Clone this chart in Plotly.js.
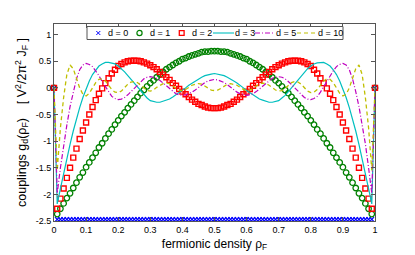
<!DOCTYPE html>
<html><head><meta charset="utf-8">
<script src="https://cdn.plot.ly/plotly-3.0.1.min.js"></script>
<style>html,body{margin:0;padding:0;background:#fff}</style>
</head><body><div id="chart" style="width:415px;height:255px"></div>
<script>
const rho = [0,0.01,0.02,0.03,0.04,0.05,0.06,0.07,0.08,0.09,0.10,0.11,0.12,0.13,0.14,0.15,0.16,0.17,0.18,0.19,0.20,0.21,0.22,0.23,0.24,0.25,0.26,0.27,0.28,0.29,0.30,0.31,0.32,0.33,0.34,0.35,0.36,0.37,0.38,0.39,0.40,0.41,0.42,0.43,0.44,0.45,0.46,0.47,0.48,0.49,0.50,0.51,0.52,0.53,0.54,0.55,0.56,0.57,0.58,0.59,0.60,0.61,0.62,0.63,0.64,0.65,0.66,0.67,0.68,0.69,0.70,0.71,0.72,0.73,0.74,0.75,0.76,0.77,0.78,0.79,0.80,0.81,0.82,0.83,0.84,0.85,0.86,0.87,0.88,0.89,0.90,0.91,0.92,0.93,0.94,0.95,0.96,0.97,0.98,0.99,1.00];

const g_d0 = [0,
-2.47,-2.47,-2.47,-2.47,-2.47,-2.47,-2.47,-2.47,-2.47,-2.47,
-2.47,-2.47,-2.47,-2.47,-2.47,-2.47,-2.47,-2.47,-2.47,-2.47,
-2.47,-2.47,-2.47,-2.47,-2.47,-2.47,-2.47,-2.47,-2.47,-2.47,
-2.47,-2.47,-2.47,-2.47,-2.47,-2.47,-2.47,-2.47,-2.47,-2.47,
-2.47,-2.47,-2.47,-2.47,-2.47,-2.47,-2.47,-2.47,-2.47,-2.47,
-2.47,-2.47,-2.47,-2.47,-2.47,-2.47,-2.47,-2.47,-2.47,-2.47,
-2.47,-2.47,-2.47,-2.47,-2.47,-2.47,-2.47,-2.47,-2.47,-2.47,
-2.47,-2.47,-2.47,-2.47,-2.47,-2.47,-2.47,-2.47,-2.47,-2.47,
-2.47,-2.47,-2.47,-2.47,-2.47,-2.47,-2.47,-2.47,-2.47,-2.47,
-2.47,-2.47,-2.47,-2.47,-2.47,-2.47,-2.47,-2.47,-2.47,
0];

const g_d1 = [0,-2.37,-2.27,-2.17,-2.07,-1.98,-1.88,-1.78,-1.68,-1.59,-1.49,-1.40,-1.31,-1.22,-1.12,-1.04,-0.95,-0.86,-0.78,-0.69,-0.61,-0.53,-0.46,-0.38,-0.31,-0.24,-0.17,-0.10,-0.04,0.03,0.09,0.14,0.20,0.25,0.30,0.35,0.39,0.43,0.47,0.50,0.54,0.56,0.59,0.61,0.63,0.65,0.67,0.68,0.68,0.69,0.69,
0.69,0.68,0.68,0.67,0.65,0.63,0.61,0.59,0.56,0.54,0.50,0.47,0.43,0.39,0.35,0.30,0.25,0.20,0.14,0.09,0.03,-0.04,-0.10,-0.17,-0.24,-0.31,-0.38,-0.46,-0.53,-0.61,-0.69,-0.78,-0.86,-0.95,-1.04,-1.12,-1.22,-1.31,-1.40,-1.49,-1.59,-1.68,-1.78,-1.88,-1.98,-2.07,-2.17,-2.27,-2.37,0];

const g_d2 = [0,-2.27,-2.08,-1.89,-1.69,-1.50,-1.31,-1.14,-0.96,-0.80,-0.65,-0.50,-0.36,-0.23,-0.11,-0.01,0.09,0.18,0.27,0.34,0.41,0.45,0.48,0.50,0.51,0.51,0.51,0.50,0.48,0.455,0.425,0.39,0.35,0.30,0.25,0.20,0.15,0.09,0.04,-0.02,-0.07,-0.12,-0.17,-0.22,-0.26,-0.30,-0.32,-0.35,-0.37,-0.38,-0.38,
-0.38,-0.37,-0.35,-0.32,-0.30,-0.26,-0.22,-0.17,-0.12,-0.07,-0.02,0.04,0.09,0.15,0.20,0.25,0.30,0.35,0.39,0.425,0.455,0.48,0.50,0.51,0.51,0.51,0.50,0.48,0.45,0.41,0.34,0.27,0.18,0.09,-0.01,-0.11,-0.23,-0.36,-0.50,-0.65,-0.80,-0.96,-1.14,-1.31,-1.50,-1.69,-1.89,-2.08,-2.27,0];

const g_d3 = [0,-2.18,-1.89,-1.60,-1.32,-1.06,-0.81,-0.58,-0.37,-0.18,-0.01,0.13,0.25,0.34,0.41,0.45,0.48,0.48,0.47,0.45,0.41,0.36,0.30,0.23,0.16,0.08,0.00,-0.07,-0.14,-0.19,-0.24,-0.26,-0.27,-0.27,-0.25,-0.23,-0.21,-0.17,-0.13,-0.09,-0.05,0.00,0.05,0.09,0.13,0.17,0.20,0.23,0.25,0.26,0.27,
0.26,0.25,0.23,0.20,0.17,0.13,0.09,0.05,0.00,-0.05,-0.09,-0.13,-0.17,-0.21,-0.23,-0.25,-0.27,-0.27,-0.26,-0.24,-0.19,-0.14,-0.07,0.00,0.08,0.16,0.23,0.30,0.36,0.41,0.45,0.47,0.48,0.48,0.45,0.41,0.34,0.25,0.13,-0.01,-0.18,-0.37,-0.58,-0.81,-1.06,-1.32,-1.60,-1.89,-2.18,0];

const g_d5 = [0,-1.98,-1.50,-1.05,-0.70,-0.35,-0.07,0.17,0.34,0.43,0.46,0.44,0.40,0.32,0.23,0.12,0.02,-0.08,-0.16,-0.20,-0.22,-0.21,-0.18,-0.13,-0.07,-0.01,0.06,0.12,0.17,0.20,0.21,0.20,0.18,0.14,0.09,0.04,-0.02,-0.07,-0.11,-0.13,-0.14,-0.13,-0.11,-0.08,-0.04,0.01,0.06,0.10,0.13,0.15,0.16,
0.15,0.13,0.10,0.06,0.01,-0.04,-0.08,-0.11,-0.13,-0.14,-0.13,-0.11,-0.07,-0.02,0.04,0.09,0.14,0.18,0.20,0.21,0.20,0.17,0.12,0.06,-0.01,-0.07,-0.13,-0.18,-0.21,-0.22,-0.20,-0.16,-0.08,0.02,0.12,0.23,0.32,0.40,0.44,0.46,0.43,0.34,0.17,-0.07,-0.35,-0.70,-1.05,-1.50,-1.98,0];

const g_d10 = [0,-1.55,-0.75,-0.18,0.25,0.43,0.36,0.18,0.00,-0.12,-0.15,-0.10,0.00,0.10,0.16,0.17,0.13,0.05,-0.03,-0.08,-0.09,-0.06,0.00,0.07,0.11,0.12,0.10,0.05,-0.01,-0.05,-0.06,-0.04,0.01,0.05,0.08,0.09,0.08,0.04,-0.01,-0.04,-0.05,-0.03,0.01,0.05,0.07,0.08,0.07,0.03,-0.01,-0.04,-0.05,
-0.04,-0.01,0.03,0.07,0.08,0.07,0.05,0.01,-0.03,-0.05,-0.04,-0.01,0.04,0.08,0.09,0.08,0.05,0.01,-0.04,-0.06,-0.05,-0.01,0.05,0.10,0.12,0.11,0.07,0.00,-0.06,-0.09,-0.08,-0.03,0.05,0.13,0.17,0.16,0.10,0.00,-0.10,-0.15,-0.12,0.00,0.18,0.36,0.43,0.25,-0.18,-0.75,-1.55,0];

const seriesNames = ['d = 0','d = 1','d = 2','d = 3','d = 5','d = 10'];
const xTicks = [0,0.1,0.2,0.3,0.4,0.5,0.6,0.7,0.8,0.9,1];
const xTickText = ['0','0.1','0.2','0.3','0.4','0.5','0.6','0.7','0.8','0.9','1'];
const yTicks = [-2.5,-2,-1.5,-1,-0.5,0,0.5,1];
const yTickText = ['-2.5','-2','-1.5','-1','-0.5','0','0.5','1'];

const FONT = 'Liberation Sans, Arial, Helvetica, sans-serif';
const cBlue='#0000ff', cGreen='#008000', cRed='#ff0000', cCyan='#00bfbf', cMag='#bf00bf', cYel='#bfbf00';

const traces = [
  {x:rho, y:g_d0, mode:'markers', name:seriesNames[0], cliponaxis:false,
   marker:{symbol:'x-thin-open', size:4.5, color:cBlue, line:{width:1.3, color:cBlue}}},
  {x:rho, y:g_d1, mode:'markers', name:seriesNames[1], cliponaxis:false,
   marker:{symbol:'circle-open', size:5.5, color:cGreen, line:{width:1.3, color:cGreen}}},
  {x:rho, y:g_d2, mode:'markers', name:seriesNames[2], cliponaxis:false,
   marker:{symbol:'square-open', size:5, color:cRed, line:{width:1.4, color:cRed}}},
  {x:rho, y:g_d3, mode:'lines', name:seriesNames[3], line:{color:cCyan, width:1.2}},
  {x:rho, y:g_d5, mode:'lines', name:seriesNames[4], line:{color:cMag, width:1.2, dash:'5px,2px,1px,2px'}},
  {x:rho, y:g_d10, mode:'lines', name:seriesNames[5], line:{color:cYel, width:1.3, dash:'4px,3px'}}
];

// custom legend (decoration), paper coordinates of the plot area
const px2x = p => (p-54)/321;
const ly = (221-33)/197;
const shapes = [
  {type:'rect', xref:'paper', yref:'paper', x0:px2x(87), x1:px2x(343), y0:(221-39.5)/197, y1:(221-26.5)/197,
   line:{color:'#555', width:1}, fillcolor:'#fff', layer:'above'},
  {type:'line', xref:'paper', yref:'paper', xsizemode:'pixel', ysizemode:'pixel', xanchor:px2x(98.3), yanchor:ly,
   x0:-2, x1:2, y0:-2, y1:2, line:{color:cBlue, width:1}, layer:'above'},
  {type:'line', xref:'paper', yref:'paper', xsizemode:'pixel', ysizemode:'pixel', xanchor:px2x(98.3), yanchor:ly,
   x0:-2, x1:2, y0:2, y1:-2, line:{color:cBlue, width:1}, layer:'above'},
  {type:'circle', xref:'paper', yref:'paper', xsizemode:'pixel', ysizemode:'pixel', xanchor:px2x(139.5), yanchor:ly,
   x0:-2.6, x1:2.6, y0:-2.6, y1:2.6, line:{color:cGreen, width:1.2}, layer:'above'},
  {type:'rect', xref:'paper', yref:'paper', xsizemode:'pixel', ysizemode:'pixel', xanchor:px2x(181.7), yanchor:ly,
   x0:-2.4, x1:2.4, y0:-2.4, y1:2.4, line:{color:cRed, width:1.3}, layer:'above'},
  {type:'line', xref:'paper', yref:'paper', x0:px2x(213), x1:px2x(234), y0:ly, y1:ly, line:{color:cCyan, width:1.1}, layer:'above'},
  {type:'line', xref:'paper', yref:'paper', x0:px2x(255), x1:px2x(275), y0:ly, y1:ly, line:{color:cMag, width:1.1, dash:'5px,2px,1px,2px'}, layer:'above'},
  {type:'line', xref:'paper', yref:'paper', x0:px2x(297), x1:px2x(317), y0:ly, y1:ly, line:{color:cYel, width:1.2, dash:'4px,3px'}, layer:'above'}
];
const legX = [107, 149, 191, 234, 275, 317];
const annotations = seriesNames.map((t,i)=>({
  text:t, xref:'paper', yref:'paper', x:px2x(legX[i]), y:ly, xanchor:'left', yanchor:'middle',
  showarrow:false, font:{family:FONT, size:9, color:'#000'}, borderpad:0
}));

const layout = {
  width:415, height:255,
  margin:{l:54, r:40, t:24, b:34},
  paper_bgcolor:'#fff', plot_bgcolor:'#fff',
  showlegend:false,
  font:{family:FONT, size:9, color:'#000'},
  xaxis:{range:[0,1], tickvals:xTicks, ticktext:xTickText, ticks:'inside', ticklen:4, tickcolor:'#555',
    showline:true, linecolor:'#555', linewidth:1, mirror:'ticks', showgrid:false, zeroline:false,
    tickfont:{family:FONT, size:9, color:'#000'},
    title:{text:'fermionic density ρ<sub>F</sub>', font:{family:FONT, size:12, color:'#000'}, standoff:5}},
  yaxis:{range:[-2.5,1.2], tickvals:yTicks, ticktext:yTickText, ticks:'inside', ticklen:4, tickcolor:'#555',
    showline:true, linecolor:'#555', linewidth:1, mirror:'ticks', showgrid:false, zeroline:false,
    tickfont:{family:FONT, size:9, color:'#000'},
    title:{text:'couplings g<sub>d</sub>(ρ<sub>F</sub>)&nbsp;&nbsp;&nbsp;&nbsp;[ V<sup>2</sup>/2π<sup>2</sup> J<sub>F</sub> ]', font:{family:FONT, size:12.5, color:'#000'}, standoff:6}},
  shapes:shapes,
  annotations:annotations
};

Plotly.newPlot('chart', traces, layout, {staticPlot:true, displayModeBar:false});
</script>
</body></html>
